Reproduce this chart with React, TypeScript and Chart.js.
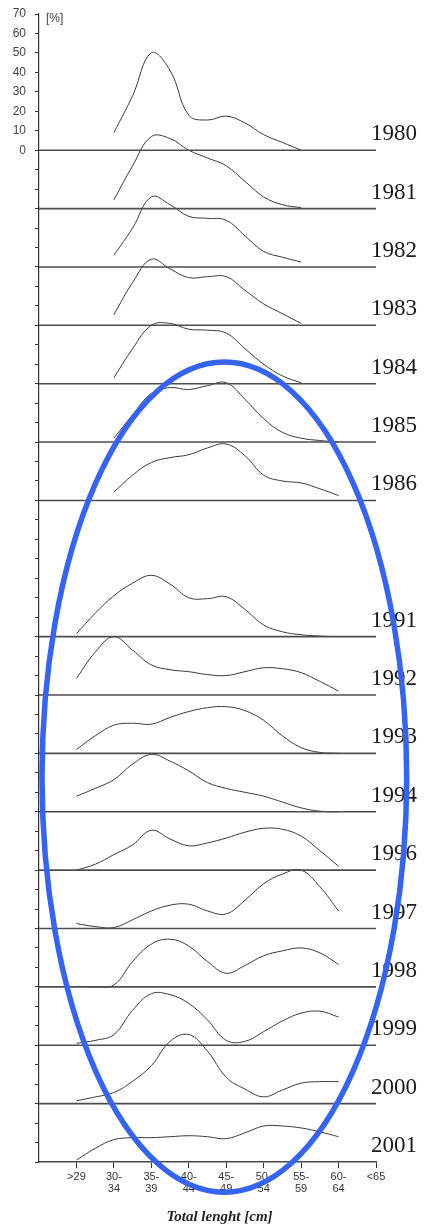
import React, { useEffect, useRef } from "react";
import { Chart, registerables } from "chart.js";

Chart.register(...registerables);

// Length classes (x positions 1..9 on the axis)
const xLabels: (string | string[])[] = [
  ">29",
  ["30-", "34"],
  ["35-", "39"],
  ["40-", "44"],
  ["45-", "49"],
  ["50-", "54"],
  ["55-", "59"],
  ["60-", "64"],
  "<65",
];

// positions where values were read (class index, half steps)
const xSteps = [1, 1.5, 2, 2.5, 3, 3.5, 4, 4.5, 5, 5.5, 6, 6.5, 7, 7.5, 8];

const years = [
  "1980", "1981", "1982", "1983", "1984", "1985", "1986",
  "1991", "1992", "1993", "1994", "1996", "1997", "1998", "1999", "2000", "2001",
];

// vertical offset (in %) of each year's zero line
const baselines = [520, 490, 460, 430, 400, 370, 340, 270, 240, 210, 180, 150, 120, 90, 60, 30, 0];

// share of catch [%] per length class
const s1980 = [null, null, 9, 28, 50, 41, 18, 15.5, 17.5, 14, 8, 4, 0, null, null];
const s1981 = [null, null, 4.5, 22, 37, 36, 30, 26, 22, 14, 6, 2, 0.5, null, null];
const s1982 = [null, null, 6, 20, 36, 32, 26, 25, 24, 16, 8, 5, 2.5, null, null];
const s1983 = [null, null, 5.5, 22, 34, 29, 24.5, 25, 25, 18, 11, 6, 1, null, null];
const s1984 = [null, null, 3, 18, 30, 31, 28, 27.5, 26, 18, 10, 4, 0.5, null, null];
const s1985 = [null, null, 2, 14, 25, 28, 27, 29, 30.5, 22, 12, 5, 2, 0.8, 0];
const s1986 = [null, null, 4.3, 13, 19.5, 22, 23.5, 27, 29, 23, 13, 10, 9, 6, 2.5];
const s1991 = [1.5, 12, 21, 27.5, 31.5, 27, 20, 19.5, 20.5, 14, 6, 2.5, 1, 0.3, 0];
const s1992 = [8.5, 22, 30, 23, 15.5, 13, 12, 10.5, 10, 12, 14, 13.5, 11.5, 7, 2];
const s1993 = [2, 9, 14.5, 15.5, 15, 18.5, 21.5, 23.5, 24, 22, 17, 9, 3, 0.5, 0];
const s1994 = [8, 12, 16.5, 24.5, 29.5, 26, 21, 15, 12, 10, 8, 5, 2, 0.3, 0];
const s1996 = [0, 3, 8, 13, 20.5, 16, 12.5, 14, 16.5, 19.5, 21.5, 21, 17.5, 10, 2];
const s1997 = [2.5, 1, 0.5, 4.5, 9, 12, 12.5, 9, 7.5, 14.5, 23, 28, 30, 21.5, 9];
const s1998 = [0.3, 0, 1, 13, 22, 24.5, 21, 13, 7, 11, 16, 18.5, 20, 17.5, 11.5];
const s1999 = [1, 2.5, 5.5, 18, 26.5, 26, 21.5, 13, 2.5, 2, 7, 12.5, 16.5, 17.5, 14.5];
const s2000 = [1.5, 3.4, 5.7, 11.5, 19.5, 32, 35.5, 27, 13.5, 7.5, 3.5, 7, 10.5, 11.3, 11.3];
const s2001 = [1, 7, 11.5, 12.5, 12.5, 13, 13.5, 13, 12, 15, 18.5, 18.5, 17.5, 15.5, 13];

const seriesList = [
  s1980, s1981, s1982, s1983, s1984, s1985, s1986,
  s1991, s1992, s1993, s1994, s1996, s1997, s1998, s1999, s2000, s2001,
];

// y tick labels shown only for the top panel
const topPanelBase = 520;
const yMax = 590;

// highlight ellipse, in axis units (centre x, centre y, radius x, radius y)
const ellipseCenter = [4.95, 197.8];
const ellipseRadius = [4.87, 213.3];

const overlayPlugin = {
  id: "overlay",
  afterDraw(chart: any) {
    const ctx = chart.ctx;
    const xs = chart.scales.x;
    const ys = chart.scales.y;
    const area = chart.chartArea;
    ctx.save();
    // year labels
    ctx.fillStyle = "#1a1a1a";
    ctx.font = "23px 'Liberation Serif', 'DejaVu Serif', serif";
    ctx.textAlign = "left";
    ctx.textBaseline = "middle";
    years.forEach((yr, i) => {
      const py = ys.getPixelForValue(baselines[i]) - 16;
      ctx.fillText(yr, area.right - 5, py);
    });
    // unit label
    ctx.fillStyle = "#444";
    ctx.font = "12px 'Liberation Sans', Arial, sans-serif";
    ctx.fillText("[%]", area.left + 7, area.top + 5);
    // axis title
    ctx.fillStyle = "#222";
    ctx.font = "italic bold 15px 'Liberation Serif', 'DejaVu Serif', serif";
    ctx.textAlign = "center";
    ctx.fillText("Total lenght [cm]", (area.left + area.right) / 2 + 12, area.bottom + 55);
    // ellipse
    const cx = xs.getPixelForValue(ellipseCenter[0]);
    const cy = ys.getPixelForValue(ellipseCenter[1]);
    const rx = xs.getPixelForValue(ellipseCenter[0] + ellipseRadius[0]) - cx;
    const ry = cy - ys.getPixelForValue(ellipseCenter[1] + ellipseRadius[1]);
    ctx.beginPath();
    ctx.ellipse(cx, cy, rx, ry, 0, 0, Math.PI * 2);
    ctx.strokeStyle = "#3563F4";
    ctx.lineWidth = 5.5;
    ctx.stroke();
    ctx.restore();
  },
};

export default function App() {
  const ref = useRef<HTMLCanvasElement | null>(null);

  useEffect(() => {
    if (!ref.current) return;
    const datasets: any[] = [];
    baselines.forEach((b, i) => {
      datasets.push({
        data: [
          { x: 0, y: b },
          { x: 9, y: b },
        ],
        borderColor: "#4d4d4d",
        borderWidth: 1.6,
        pointRadius: 0,
        tension: 0,
      });
      const pts = xSteps
        .map((x, k) => ({ x, v: seriesList[i][k] }))
        .filter((p) => p.v !== null)
        .map((p) => ({ x: p.x, y: b + (p.v as number) }));
      datasets.push({
        data: pts,
        borderColor: "#3a3a3a",
        borderWidth: 1,
        pointRadius: 0,
        tension: 0.4,
      });
    });

    const chart = new Chart(ref.current, {
      type: "line",
      data: { datasets },
      options: {
        responsive: false,
        animation: false,
        devicePixelRatio: 1,
        layout: { padding: { top: 14, right: 50, left: 0, bottom: 0 } },
        plugins: { legend: { display: false }, tooltip: { enabled: false } },
        scales: {
          x: {
            type: "linear",
            min: 0,
            max: 9,
            afterFit: (s: any) => {
              s.height = 68;
            },
            ticks: {
              stepSize: 1,
              autoSkip: false,
              maxRotation: 0,
              padding: 3,
              color: "#333",
              font: { size: 11, family: "'Liberation Sans', Arial, sans-serif", lineHeight: 1.1 },
              callback: (v: any) => (v >= 1 && v <= 9 ? xLabels[v - 1] : ""),
            },
            grid: {
              drawOnChartArea: false,
              tickLength: 6,
              color: (c: any) => (c.tick && c.tick.value === 0 ? "rgba(0,0,0,0)" : "#333"),
            },
            border: { display: true, color: "#444", width: 1.6 },
          },
          y: {
            type: "linear",
            min: 0,
            max: yMax,
            afterFit: (s: any) => {
              s.width = 39;
              s.paddingTop = 0;
              s.paddingBottom = 0;
            },
            ticks: {
              stepSize: 10,
              autoSkip: false,
              maxTicksLimit: 200,
              padding: 9,
              color: "#444",
              font: { size: 12, family: "'Liberation Sans', Arial, sans-serif" },
              callback: (v: any) => (v >= topPanelBase ? String(v - topPanelBase) : ""),
            },
            grid: { drawOnChartArea: false, tickLength: 4, color: "#333" },
            border: { display: true, color: "#333", width: 1.2 },
          },
        },
      },
      plugins: [overlayPlugin],
    });
    return () => chart.destroy();
  }, []);

  return (
    <div style={{ position: "absolute", left: 0, top: 0, width: 426, height: 1230, background: "#fff" }}>
      <canvas ref={ref} width={426} height={1230} />
    </div>
  );
}
